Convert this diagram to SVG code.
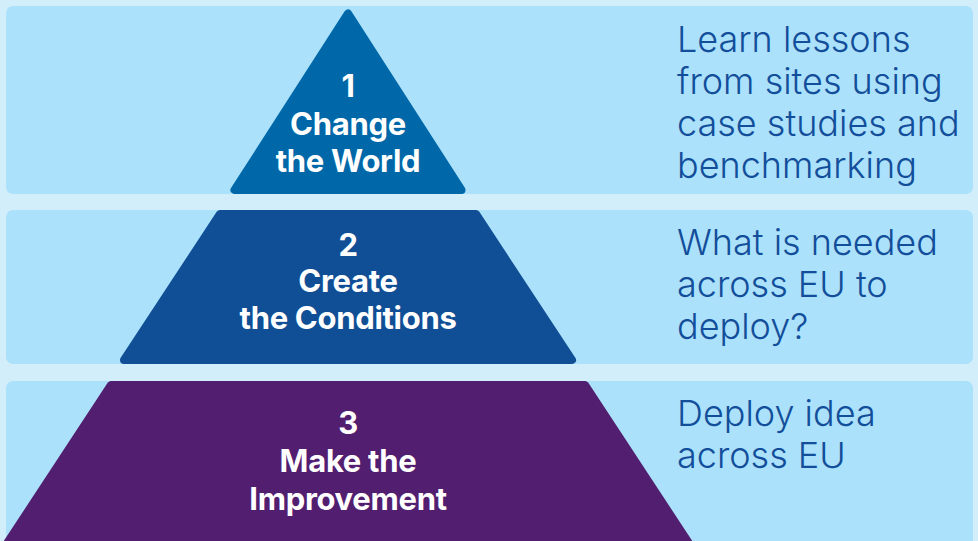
<svg xmlns="http://www.w3.org/2000/svg" width="978" height="541" viewBox="0 0 978 541">
  <style>
    .band { fill: #ABE1FB; }
    .lvl { stroke-width: 8; stroke-linejoin: round; }
    .lbl { font-family: Inter, "Liberation Sans", Arial, sans-serif; font-weight: 700; font-size: 31px; letter-spacing: -0.3px; fill: #FFFFFF; text-anchor: middle; }
    .desc { font-family: Inter, "Liberation Sans", Arial, sans-serif; font-weight: 300; font-size: 36px; fill: #124E9A; }
  </style>
  <rect x="0" y="0" width="978" height="541" fill="#D3EEFB"/>
  <g id="band1"><rect class="band" x="6" y="6" width="967" height="188" rx="7"/></g>
  <g id="band2"><rect class="band" x="6" y="210" width="967" height="154" rx="7"/></g>
  <g id="band3"><rect class="band" x="6" y="381" width="967" height="175" rx="7"/></g>

  <g id="level1">
    <polygon class="lvl" points="348,13.5 234.5,190 461.5,190" fill="#0068A8" stroke="#0068A8"/>
    <text class="lbl" x="348" y="97">1</text>
    <text class="lbl" x="348" y="135">Change</text>
    <text class="lbl" x="348" y="172">the World</text>
  </g>
  <g id="level2">
    <polygon class="lvl" points="220,214 476,214 572,360 124,360" fill="#104F96" stroke="#104F96"/>
    <text class="lbl" x="348" y="256">2</text>
    <text class="lbl" x="348" y="292">Create</text>
    <text class="lbl" x="348" y="329">the Conditions</text>
  </g>
  <g id="level3">
    <polygon class="lvl" points="111,385 585,385 700,560 -4,560" fill="#521E6F" stroke="#521E6F"/>
    <text class="lbl" x="348" y="434">3</text>
    <text class="lbl" x="348" y="472">Make the</text>
    <text class="lbl" x="348" y="510">Improvement</text>
  </g>

  <g id="desc1">
    <text class="desc" x="677" y="52">Learn lessons</text>
    <text class="desc" x="677" y="94">from sites using</text>
    <text class="desc" x="677" y="136">case studies and</text>
    <text class="desc" x="677" y="178">benchmarking</text>
  </g>
  <g id="desc2">
    <text class="desc" x="677" y="255">What is needed</text>
    <text class="desc" x="677" y="297">across EU to</text>
    <text class="desc" x="677" y="339">deploy?</text>
  </g>
  <g id="desc3">
    <text class="desc" x="677" y="426">Deploy idea</text>
    <text class="desc" x="677" y="468">across EU</text>
  </g>
  <g id="connectors"/>
</svg>
